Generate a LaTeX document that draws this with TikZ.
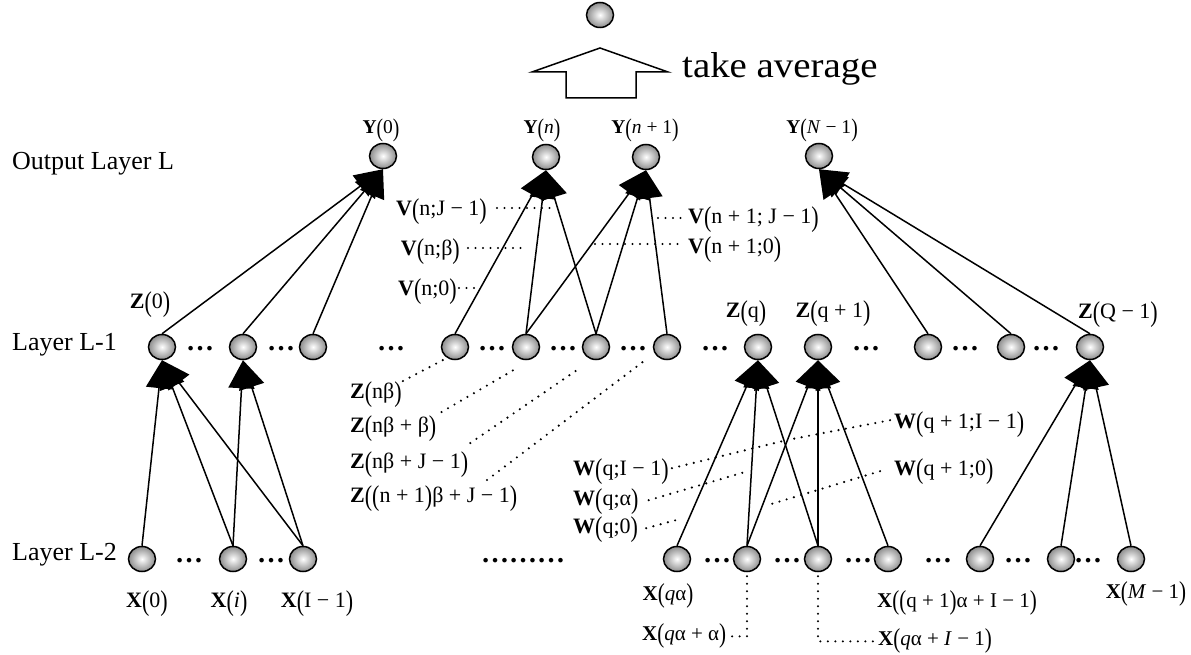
\documentclass[tikz,border=0pt]{standalone}
\usepackage{fontspec}
\setmainfont{Liberation Serif}
\usepackage{graphicx}
\usetikzlibrary{arrows.meta,shapes.geometric}
\newcommand{\LPar}{\raisebox{-0.14em}{\scalebox{1}[1.3]{(}}}
\newcommand{\RPar}{\raisebox{-0.14em}{\scalebox{1}[1.3]{)}}}
\newcommand{\sgap}{\hspace{0.25em}}
\newcommand{\Mi}{\sgap−\sgap}
\newcommand{\Pl}{\sgap+\sgap}
\begin{document}
\begin{tikzpicture}[x=1pt,y=-1pt,
 neuron/.style={ellipse,draw,line width=1.5pt,minimum width=27pt,minimum height=25pt,inner sep=0pt,inner color=white,outer color=black!45},
 arr/.style={line width=1.5pt,-{Triangle[length=28pt,width=26pt]}},
 lead/.style={line width=2.4pt,line cap=round,dash pattern=on 0pt off 7.5pt},
 dts/.style={font=\fontsize{28}{28}\selectfont\bfseries,inner sep=0pt},
 lay/.style={font=\fontsize{26}{26}\selectfont,inner sep=0pt,anchor=base west},
 ylab/.style={font=\fontsize{19.5}{19.5}\selectfont,inner sep=0pt,anchor=base},
 lab/.style={font=\fontsize{22}{22}\selectfont,inner sep=0pt},
 xlab/.style={font=\fontsize{21}{21}\selectfont,inner sep=0pt}]
\useasboundingbox (0,0) rectangle (1191,655);

% top average
\node[neuron] (avg) at (600,15) {};
\draw[line width=1.5pt] (600,48) -- (668,72) -- (636,72) -- (636,98) -- (566,98) -- (566,72) -- (532,72) -- cycle;
\node[font=\fontsize{36}{36}\selectfont,anchor=base west,inner sep=0pt,xscale=1.08] (ta) at (682,78) {take average};

% layer labels
\node[lay] (lo) at (12,170) {Output Layer L};
\node[lay] (l1) at (12,350) {Layer L-1};
\node[lay] (l2) at (12,560) {Layer L-2};

% output layer
\node[neuron] (y0) at (383,156) {};
\node[neuron] (yn) at (546,157) {};
\node[neuron] (yn1) at (646,157) {};
\node[neuron] (yN) at (819,156) {};
\node[ylab] (ly0) at (381,134) {\textbf{Y}\LPar0\RPar};
\node[ylab] (lyn) at (542,134) {\textbf{Y}\LPar\textit{n}\RPar};
\node[ylab] (lyn1) at (645,134) {\textbf{Y}\LPar\textit{n}\Pl1\RPar};
\node[ylab] (lyN) at (822,134) {\textbf{Y}\LPar\textit{N}\Mi1\RPar};

% layer L-1
\foreach \n/\x in {z1/162,z2/243,z3/313,z4/455,z5/526,z6/596,z7/667,zq/758,zq1/818,z8/928,z9/1011,zQ/1090}
  \node[neuron] (\n) at (\x,347) {};
\foreach \n/\x in {da1/200,da2/281,da3/391,da4/492,da5/563,da6/633,da7/715,da8/866,da9/965,da10/1046}
  \node[dts] (\n) at (\x,349) {…};

% layer L-2
\foreach \n/\x in {x1/142,x2/233,x3/303,r1/677,r2/747,r3/818,r4/888,r5/980,r6/1061,r7/1131}
  \node[neuron] (\n) at (\x,559) {};
\foreach \n/\x in {db1/189,db2/271,db4/717,db5/787,db6/858,db7/938,db8/1018,db9/1088}
  \node[dts] (\n) at (\x,561) {…};
\node[dts] (db3) at (523,561) {………};

% Z labels
\node[lab,anchor=base] (lz0) at (150,308) {\textbf{Z}\LPar0\RPar};
\node[lab,anchor=base] (lzq) at (746,317) {\textbf{Z}\LPar q\RPar};
\node[lab,anchor=base] (lzq1) at (833,317) {\textbf{Z}\LPar q\Pl1\RPar};
\node[lab,anchor=base] (lzQ) at (1118,318) {\textbf{Z}\LPar Q\Mi1\RPar};

% V labels
\node[lab,anchor=base east] (vA) at (487,215) {\textbf{V}\LPar n;J\Mi1\RPar};
\node[lab,anchor=base east] (vB) at (460,255) {\textbf{V}\LPar n;β\RPar};
\node[lab,anchor=base east] (vC) at (457,295) {\textbf{V}\LPar n;0\RPar};
\node[lab,anchor=base west] (vD) at (688,223) {\textbf{V}\LPar n\Pl1;\sgap J\Mi1\RPar};
\node[lab,anchor=base west] (vE) at (688,253) {\textbf{V}\LPar n\Pl1;0\RPar};

% Z(n beta) labels
\node[lab,anchor=base west] (zA) at (350,398) {\textbf{Z}\LPar nβ\RPar};
\node[lab,anchor=base west] (zB) at (350,432) {\textbf{Z}\LPar nβ\Pl β\RPar};
\node[lab,anchor=base west] (zC) at (350,468) {\textbf{Z}\LPar nβ\Pl J\Mi1\RPar};
\node[lab,anchor=base west] (zD) at (350,502) {\textbf{Z}\LPar\LPar n\Pl1\RPar β\Pl J\Mi1\RPar};

% W labels
\node[lab,anchor=base west] (wA) at (573,475) {\textbf{W}\LPar q;I\Mi1\RPar};
\node[lab,anchor=base west] (wB) at (573,505) {\textbf{W}\LPar q;α\RPar};
\node[lab,anchor=base west] (wC) at (573,533) {\textbf{W}\LPar q;0\RPar};
\node[lab,anchor=base west] (wD) at (894,428) {\textbf{W}\LPar q\Pl1;I\Mi1\RPar};
\node[lab,anchor=base west] (wE) at (894,475) {\textbf{W}\LPar q\Pl1;0\RPar};

% X labels
\node[lab,anchor=base] (xl0) at (147,607) {\textbf{X}\LPar0\RPar};
\node[lab,anchor=base] (xli) at (229,607) {\textbf{X}\LPar\textit{i}\RPar};
\node[lab,anchor=base] (xlI) at (317,607) {\textbf{X}\LPar I\Mi1\RPar};
\node[xlab,anchor=base] (xA) at (668,600) {\textbf{X}\LPar\textit{q}α\RPar};
\node[xlab,anchor=base west] (xB) at (642,640) {\textbf{X}\LPar\textit{q}α\Pl α\RPar};
\node[xlab,anchor=base] (xC) at (957,607) {\textbf{X}\LPar\LPar q\Pl1\RPar α\Pl I\Mi1\RPar};
\node[xlab,anchor=base] (xD) at (1146,598) {\textbf{X}\LPar\textit{M}\Mi1\RPar};
\node[xlab,anchor=base west] (xE) at (878,645) {\textbf{X}\LPar\textit{q}α\Pl\textit{I}\Mi1\RPar};

% edges to output layer
\foreach \s in {z1,z2,z3} \draw[arr] (\s.north) -- (y0.south);
\foreach \s in {z4,z5,z6} \draw[arr] (\s.north) -- (yn.south);
\foreach \s in {z5,z6,z7} \draw[arr] (\s.north) -- (yn1.south);
\foreach \s in {z8,z9,zQ} \draw[arr] (\s.north) -- (yN.south);
% edges to layer L-1
\foreach \s in {x1,x2,x3} \draw[arr] (\s.north) -- (z1.south);
\foreach \s in {x2,x3} \draw[arr] (\s.north) -- (z2.south);
\foreach \s in {r1,r2,r3} \draw[arr] (\s.north) -- (zq.south);
\foreach \s in {r2,r3,r4} \draw[arr] (\s.north) -- (zq1.south);
\foreach \s in {r5,r6,r7} \draw[arr] (\s.north) -- (zQ.south);

% leader coordinates
\coordinate (cvA) at (550,208);
\coordinate (cvB) at (528,248);
\coordinate (cvC) at (477,288);
\coordinate (cvD) at (658,218);
\coordinate (cvE) at (595,244);
\coordinate (cz1) at (443,360);
\coordinate (cz2) at (517,368);
\coordinate (cz3) at (580,368);
\coordinate (cz4) at (648,358);
\coordinate (cw1) at (787,440);
\coordinate (cw2) at (745,472);
\coordinate (cw3) at (680,519);
\coordinate (cw4) at (768,505);

% V leaders
\draw[lead] ([xshift=10pt]vA.east |- cvA) -- (cvA);
\draw[lead] ([xshift=8pt]vB.east |- cvB) -- (cvB);
\draw[lead] ([xshift=2pt]vC.east |- cvC) -- (cvC);
\draw[lead] (cvD) -- ([xshift=-2pt]vD.west |- cvD);
\draw[lead] (cvE) -- ([xshift=-6pt]vE.west |- cvE);
% Z leaders
\draw[lead] ([xshift=1pt]zA.north east) -- (cz1);
\draw[lead] ([shift={(5pt,3pt)}]zB.north east) -- (cz2);
\draw[lead] ([shift={(2pt,8pt)}]zC.north east) -- (cz3);
\draw[lead] ([shift={(137pt,5pt)}]zD.north west) -- (cz4);
% W leaders
\draw[lead] ([shift={(3pt,3pt)}]wA.east) -- (cw1);
\draw[lead] ([shift={(-4pt,4pt)}]wD.west) -- (cw1);
\draw[lead] ([shift={(10pt,1pt)}]wB.east) -- (cw2);
\draw[lead] ([shift={(8pt,1pt)}]wC.east) -- (cw3);
\draw[lead] ([shift={(-14pt,0pt)}]wE.west) -- (cw4);
% X leaders
\draw[lead] ([yshift=-4pt]r2.south) |- (xB.east);
\draw[lead] ([yshift=-4pt]r3.south) |- (xE.west);
\end{tikzpicture}
\end{document}
